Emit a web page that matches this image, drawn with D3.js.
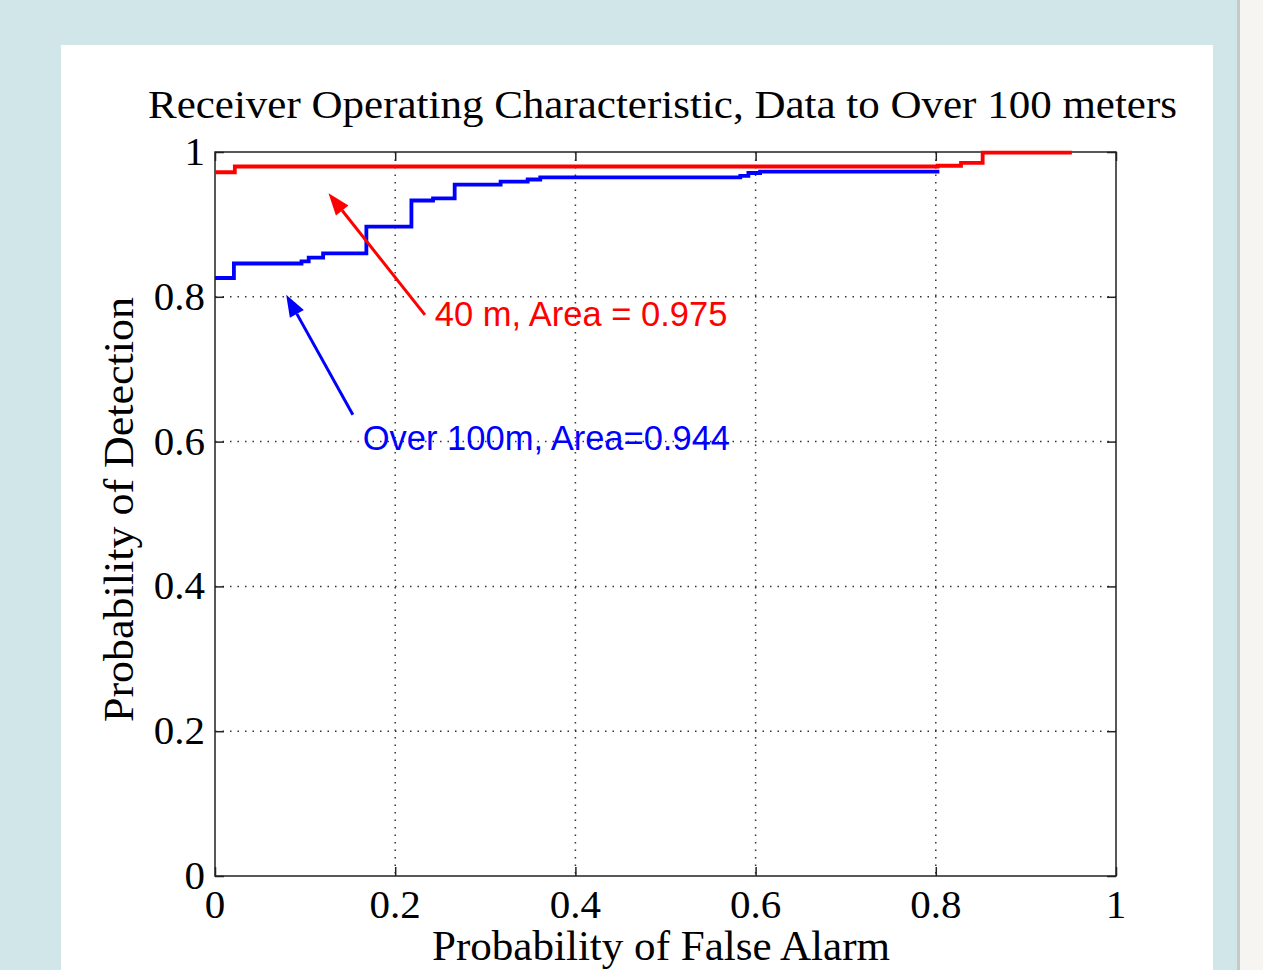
<!DOCTYPE html>
<html>
<head>
<meta charset="utf-8">
<script src="https://cdn.jsdelivr.net/npm/d3@7"></script>
<style>
  html, body { margin: 0; padding: 0; background: #d0e6e8; overflow: hidden; }
  svg { display: block; }
</style>
</head>
<body>
<svg id="chart" width="1263" height="970"></svg>
<script>
// ROC data (false alarm rate, detection rate)
var redFpr  = [0, 0.022, 0.802, 0.828, 0.852, 0.951];
var redTpr  = [0.972, 0.980, 0.981, 0.985, 0.999, 0.999];
var blueFpr = [0, 0.021, 0.096, 0.104, 0.120, 0.168, 0.218, 0.242, 0.266, 0.317, 0.347, 0.361, 0.583, 0.592, 0.605, 0.804];
var blueTpr = [0.826, 0.846, 0.849, 0.854, 0.860, 0.897, 0.933, 0.936, 0.955, 0.959, 0.962, 0.965, 0.967, 0.971, 0.973, 0.973];
var tickValues = [0, 0.2, 0.4, 0.6, 0.8, 1];
var tickLabels = ['0', '0.2', '0.4', '0.6', '0.8', '1'];

var titleText = 'Receiver Operating Characteristic, Data to Over 100 meters';
var xLabel = 'Probability of False Alarm';
var yLabel = 'Probability of Detection';

// annotations, in data units: arrow tail, arrow tip, text start
var redNote = {text: '40 m, Area = 0.975', tail: [0.233, 0.775], tip: [0.126, 0.943], at: [0.244, 0.760]};
var blueNote = {text: 'Over 100m, Area=0.944', tail: [0.153, 0.637], tip: [0.079, 0.803], at: [0.164, 0.588]};

(function() {
    var svg = d3.select('#chart');
    var serif = '"Liberation Serif", "DejaVu Serif", serif';
    var sans = '"Liberation Sans", Arial, sans-serif';

    // page furniture
    svg.append('rect').attr('x', 0).attr('y', 0).attr('width', 1263).attr('height', 970).attr('fill', '#d0e6e8');
    svg.append('rect').attr('x', 61).attr('y', 45).attr('width', 1152).attr('height', 925).attr('fill', '#ffffff');
    svg.append('rect').attr('x', 1237).attr('y', 0).attr('width', 26).attr('height', 970).attr('fill', '#f6f5f2');
    svg.append('rect').attr('x', 1237).attr('y', 0).attr('width', 3).attr('height', 970).attr('fill', '#c9c8c5');

    var left = 215, right = 1116, top = 152, bottom = 876;
    var x = d3.scaleLinear().domain([0, 1]).range([left, right]);
    var y = d3.scaleLinear().domain([0, 1]).range([bottom, top]);

    // grid
    var grid = svg.append('g').attr('class', 'grid');
    grid.selectAll('.gx')
        .data(tickValues.slice(1, -1))
        .enter().append('line')
        .attr('x1', function(d) { return x(d); })
        .attr('x2', function(d) { return x(d); })
        .attr('y1', top).attr('y2', bottom)
        .attr('stroke', '#333').attr('stroke-width', 1.5)
        .attr('stroke-dasharray', '1.5,6');
    grid.selectAll('.gy')
        .data(tickValues.slice(1, -1))
        .enter().append('line')
        .attr('y1', function(d) { return y(d); })
        .attr('y2', function(d) { return y(d); })
        .attr('x1', left).attr('x2', right)
        .attr('stroke', '#333').attr('stroke-width', 1.5)
        .attr('stroke-dasharray', '1.5,6');

    // axes, ticks inward on all four sides
    var axisStyle = function(g) {
        g.select('.domain').remove();
        g.selectAll('.tick line').attr('stroke', '#222').attr('stroke-width', 1.5);
        g.selectAll('.tick text').remove();
    };
    svg.append('g').attr('transform', 'translate(0,' + bottom + ')')
        .call(d3.axisBottom(x).tickValues(tickValues).tickSize(-9)).call(axisStyle);
    svg.append('g').attr('transform', 'translate(0,' + top + ')')
        .call(d3.axisTop(x).tickValues(tickValues).tickSize(-9)).call(axisStyle);
    svg.append('g').attr('transform', 'translate(' + left + ',0)')
        .call(d3.axisLeft(y).tickValues(tickValues).tickSize(-9)).call(axisStyle);
    svg.append('g').attr('transform', 'translate(' + right + ',0)')
        .call(d3.axisRight(y).tickValues(tickValues).tickSize(-9)).call(axisStyle);

    svg.append('rect')
        .attr('x', left).attr('y', top)
        .attr('width', right - left).attr('height', bottom - top)
        .attr('fill', 'none').attr('stroke', '#222').attr('stroke-width', 1.5);

    // tick labels
    svg.selectAll('.xl')
        .data(tickValues)
        .enter().append('text')
        .attr('x', function(d) { return x(d); })
        .attr('y', 918)
        .attr('text-anchor', 'middle')
        .attr('font-family', serif).attr('font-size', 41).attr('fill', '#000')
        .text(function(d, i) { return tickLabels[i]; });
    svg.selectAll('.yl')
        .data(tickValues)
        .enter().append('text')
        .attr('x', 205)
        .attr('y', function(d) { return y(d) + 13; })
        .attr('text-anchor', 'end')
        .attr('font-family', serif).attr('font-size', 41).attr('fill', '#000')
        .text(function(d, i) { return tickLabels[i]; });

    // titles
    svg.append('text')
        .attr('x', 148).attr('y', 118)
        .attr('font-family', serif).attr('font-size', 41).attr('fill', '#000')
        .attr('textLength', 1029).attr('lengthAdjust', 'spacingAndGlyphs')
        .text(titleText);
    svg.append('text')
        .attr('x', 432).attr('y', 960)
        .attr('font-family', serif).attr('font-size', 42).attr('fill', '#000')
        .attr('textLength', 458).attr('lengthAdjust', 'spacingAndGlyphs')
        .text(xLabel);
    svg.append('text')
        .attr('transform', 'translate(133,722) rotate(-90)')
        .attr('font-family', serif).attr('font-size', 42).attr('fill', '#000')
        .attr('textLength', 425).attr('lengthAdjust', 'spacingAndGlyphs')
        .text(yLabel);

    // ROC curves
    var line = d3.line()
        .x(function(d) { return x(d[0]); })
        .y(function(d) { return y(d[1]); })
        .curve(d3.curveStepAfter);
    var redPts = d3.zip(redFpr, redTpr);
    var bluePts = d3.zip(blueFpr, blueTpr);
    svg.append('path').attr('d', line(bluePts))
        .attr('fill', 'none').attr('stroke', '#0000ff').attr('stroke-width', 3.8);
    svg.append('path').attr('d', line(redPts))
        .attr('fill', 'none').attr('stroke', '#ff0000').attr('stroke-width', 3.8);

    // annotations
    function drawNote(note, color) {
        var x1 = x(note.tail[0]), y1 = y(note.tail[1]);
        var x2 = x(note.tip[0]), y2 = y(note.tip[1]);
        var ang = Math.atan2(y2 - y1, x2 - x1);
        var len = 22, half = 8;
        var bx = x2 - len * Math.cos(ang), by = y2 - len * Math.sin(ang);
        svg.append('line')
            .attr('x1', x1).attr('y1', y1).attr('x2', bx).attr('y2', by)
            .attr('stroke', color).attr('stroke-width', 3);
        var pts = [
            [x2, y2],
            [bx + half * Math.sin(ang), by - half * Math.cos(ang)],
            [bx - half * Math.sin(ang), by + half * Math.cos(ang)]
        ];
        svg.append('polygon')
            .attr('points', pts.map(function(p) { return p.join(','); }).join(' '))
            .attr('fill', color);
        svg.append('text')
            .attr('x', x(note.at[0])).attr('y', y(note.at[1]))
            .attr('font-family', sans).attr('font-size', 34.5).attr('fill', color)
            .text(note.text);
    }
    drawNote(redNote, '#ff0000');
    drawNote(blueNote, '#0000ff');
})();
</script>
</body>
</html>
